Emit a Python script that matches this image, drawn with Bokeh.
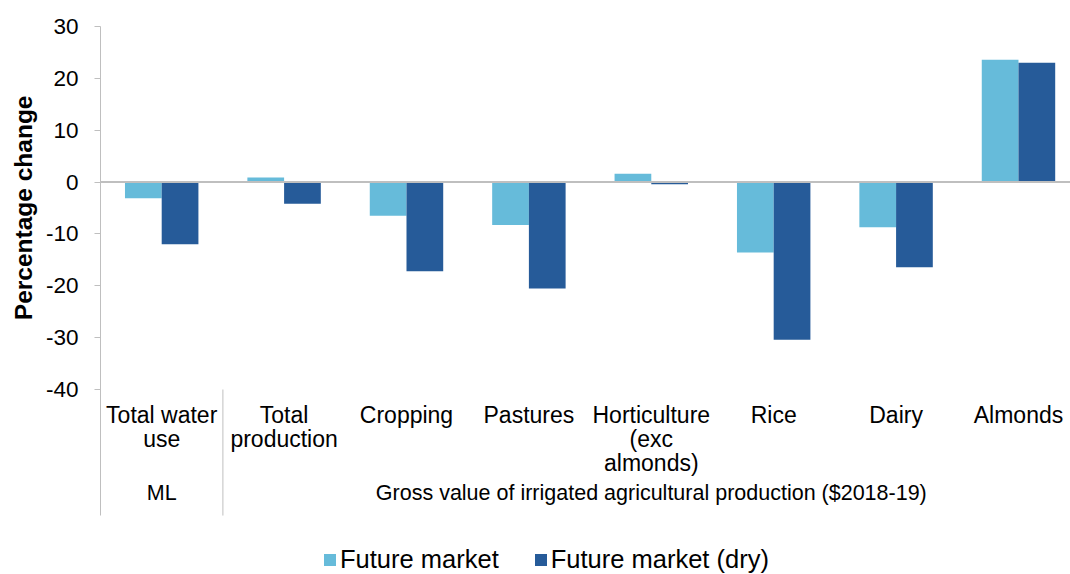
from bokeh.plotting import figure
from bokeh.models import (ColumnDataSource, Range1d, FixedTicker, Span, Label, Title,
                          Legend, LegendItem, CustomJSTickFormatter)
from bokeh.embed import file_html
from bokeh.resources import INLINE

categories = ["Total water\nuse", "Total\nproduction", "Cropping", "Pastures",
              "Horticulture\n(exc\nalmonds)", "Rice", "Dairy", "Almonds"]
future_market = [-3.1, 0.9, -6.5, -8.3, 1.6, -13.6, -8.7, 23.6]
future_market_dry = [-12.0, -4.2, -17.2, -20.5, -0.4, -30.4, -16.4, 23.0]
y_ticks = [-40, -30, -20, -10, 0, 10, 20, 30]
group_labels = ["ML", "Gross value of irrigated agricultural production ($2018-19)"]
series_names = ["Future market", "Future market (dry)"]

LIGHT = "#66BBDA"
DARK = "#265B99"
GRID = "#BFBFBF"
FONT = "Liberation Sans"

# layout constants (data units below the value axis, used for the category table)
Y_TOP, Y_MIN_TICK = 30, -40
Y_FRAME_BOTTOM = -75.67
Y_TABLE_BOTTOM = -64.3
Y_CAT_LABEL = -42.4
Y_GROUP_LABEL = -60.0

n = len(categories)
centers = [i + 0.5 for i in range(n)]
bw = 0.3
src = ColumnDataSource(dict(
    x1=[c - bw / 2 for c in centers], x2=[c + bw / 2 for c in centers],
    v1=future_market, v2=future_market_dry))

p = figure(width=1070, height=574, x_range=Range1d(0, 7.925),
           y_range=Range1d(Y_FRAME_BOTTOM, Y_TOP),
           min_border_left=100, min_border_right=0, min_border_top=26, min_border_bottom=0,
           output_backend="svg", toolbar_location=None, outline_line_color=None)
p.xgrid.visible = False
p.ygrid.visible = False
p.xaxis.visible = False

r1 = p.vbar(x="x1", top="v1", bottom=0, width=bw, source=src, fill_color=LIGHT, line_color=None)
r2 = p.vbar(x="x2", top="v2", bottom=0, width=bw, source=src, fill_color=DARK, line_color=None)

p.add_layout(Span(location=0, dimension="width", line_color=GRID, line_width=2))

# separator between "ML" and gross value groups
p.segment(x0=[1], y0=[Y_MIN_TICK], x1=[1], y1=[Y_TABLE_BOTTOM], line_color=GRID, line_width=1)

# y axis
ya = p.yaxis[0]
ya.ticker = FixedTicker(ticks=y_ticks)
ya.formatter = CustomJSTickFormatter(code="return tick.toString()")
ya.bounds = (Y_TABLE_BOTTOM, Y_TOP)
ya.axis_line_color = GRID
ya.major_tick_line_color = GRID
ya.minor_tick_line_color = None
ya.major_tick_out = 6
ya.major_tick_in = 0
ya.major_label_standoff = 16
ya.major_label_text_font = FONT
ya.major_label_text_font_size = "22.5px"
ya.major_label_text_color = "#000000"

p.add_layout(Title(text="Percentage change", align="right", offset=69,
                   text_font=FONT, text_font_size="24.5px", text_font_style="bold",
                   text_color="#000000", standoff=12), "left")

for c, lab in zip(centers, categories):
    p.add_layout(Label(x=c, y=Y_CAT_LABEL, text=lab, text_align="center", text_baseline="top",
                       text_font=FONT, text_font_size="23px", text_color="#000000",
                       text_line_height=0.92))

p.add_layout(Label(x=0.5, y=Y_GROUP_LABEL, text=group_labels[0], text_align="center",
                   text_baseline="middle", text_font=FONT, text_font_size="21.5px",
                   text_color="#000000"))
p.add_layout(Label(x=4.5, y=Y_GROUP_LABEL, text=group_labels[1], text_align="center",
                   text_baseline="middle", text_font=FONT, text_font_size="21.5px",
                   text_color="#000000"))

legend = Legend(items=[LegendItem(label=series_names[0], renderers=[r1]),
                       LegendItem(label=series_names[1], renderers=[r2])],
                orientation="horizontal", location=(222, 0),
                label_text_font=FONT, label_text_font_size="25.5px",
                label_text_color="#000000", glyph_width=15, glyph_height=15,
                label_standoff=3, spacing=34, padding=0, margin=0,
                border_line_color=None, background_fill_alpha=0)
p.add_layout(legend, "center")

open("out.html", "w").write(file_html(p, INLINE))
